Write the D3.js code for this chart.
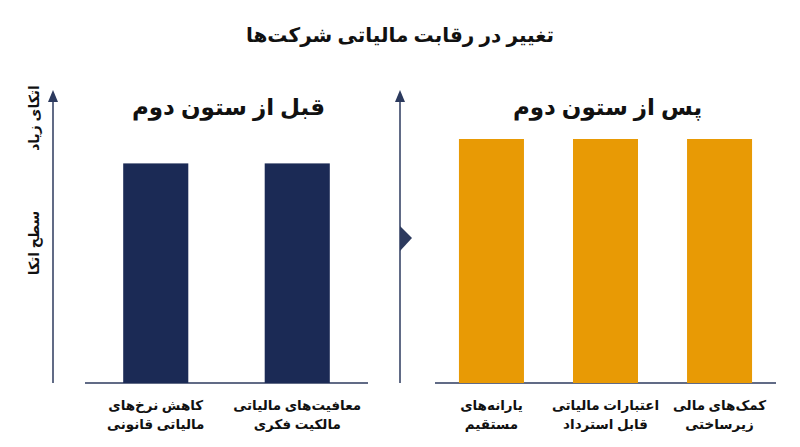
<!DOCTYPE html>
<html>
<head>
<meta charset="utf-8">
<script src="https://cdn.jsdelivr.net/npm/d3@7"></script>
<style>
  body { margin: 0; background: #fff; }
  text { font-family: "Noto Sans", "DejaVu Sans", sans-serif; fill: #111; }
</style>
</head>
<body>
<svg id="chart" width="800" height="447"></svg>
<script>
// data
var beforeCats = [["کاهش نرخ‌های", "مالیاتی قانونی"], ["معافیت‌های مالیاتی", "مالکیت فکری"]];
var beforeVals = [90, 90];
var afterCats = [["یارانه‌های", "مستقیم"], ["اعتبارات مالیاتی", "قابل استرداد"], ["کمک‌های مالی", "زیرساختی"]];
var afterVals = [100, 100, 100];

var navy = "#1b2a55", orange = "#e89a05", axisCol = "#2c3a5e";
var svg = d3.select("#chart");
var y = d3.scaleLinear().domain([0, 100]).range([383, 139]);

svg.append("text").attr("x", 400).attr("y", 42).attr("text-anchor", "middle")
  .attr("direction", "rtl").style("font-size", "20px").style("font-weight", "bold")
  .text("تغییر در رقابت مالیاتی شرکت‌ها");

// y axis label
[["اتکای زیاد", 118], ["سطح اتکا", 243]].forEach(function(d) {
  svg.append("text").attr("transform", "translate(39," + d[1] + ") rotate(-90)")
    .attr("text-anchor", "middle").attr("direction", "rtl")
    .style("font-size", "14px").style("font-weight", "bold").text(d[0]);
});

function vAxis(x) {
  svg.append("line").attr("x1", x).attr("x2", x).attr("y1", 98).attr("y2", 383)
    .attr("stroke", axisCol).attr("stroke-width", 1.5);
  svg.append("path").attr("d", "M" + (x - 5) + ",102 L" + x + ",90 L" + (x + 5) + ",102 Z")
    .attr("fill", axisCol);
}
vAxis(53);
vAxis(400);
svg.append("path").attr("d", "M400,226 L412,238 L400,251 Z").attr("fill", axisCol);

function panel(cats, vals, x0, x1, pin, pout, title, colour) {
  var x = d3.scaleBand().domain(d3.range(cats.length)).range([x0, x1]).paddingInner(pin).paddingOuter(pout);
  svg.append("line").attr("x1", x0).attr("x2", x1).attr("y1", 383).attr("y2", 383)
    .attr("stroke", axisCol).attr("stroke-width", 1.5);
  svg.selectAll(null).data(vals).enter().append("rect")
    .attr("x", function(d, i) { return x(i); })
    .attr("width", x.bandwidth())
    .attr("y", function(d) { return y(d); })
    .attr("height", function(d) { return 383 - y(d); })
    .attr("fill", colour);
  cats.forEach(function(d, i) {
    d.forEach(function(line, j) {
      svg.append("text").attr("x", x(i) + x.bandwidth() / 2).attr("y", 410 + j * 19)
        .attr("text-anchor", "middle").attr("direction", "rtl")
        .style("font-size", "13.5px").style("font-weight", "bold").text(line);
    });
  });
  svg.append("text").attr("x", (x0 + x1) / 2 + 2).attr("y", 115).attr("text-anchor", "middle")
    .attr("direction", "rtl").style("font-size", "23px").style("font-weight", "bold").text(title);
}
panel(beforeCats, beforeVals, 85, 368, 0.54, 0.27, "قبل از ستون دوم", navy);
panel(afterCats, afterVals, 435, 776, 0.43, 0.21, "پس از ستون دوم", orange);
</script>
</body>
</html>
